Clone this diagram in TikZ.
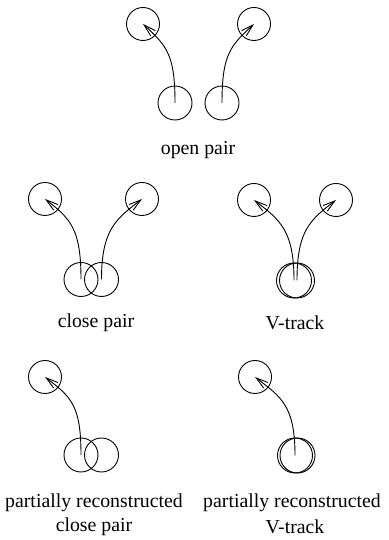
\documentclass[tikz,border=0pt]{standalone}
\usepackage{fontspec}
\setmainfont{Liberation Serif}
\usetikzlibrary{arrows.meta}
\begin{document}
\begin{tikzpicture}[x=1pt,y=1pt,
  line width=0.9pt,
  hit/.style={circle,draw,inner sep=0pt,minimum size=33pt},
  seed/.style={circle,draw,inner sep=0pt,minimum size=34pt},
  trk/.style={-{Straight Barb[length=12pt,width=7pt,line width=0.9pt]}},
  lab/.style={font=\fontsize{19.8}{24}\selectfont,inner sep=0pt}]
\useasboundingbox[fill=white] (0,0) rectangle (388,540);

% open pair
\node[hit] (a1) at (143,516) {};
\node[hit] (a2) at (254,516) {};
\node[seed] (b1) at (175,437) {};
\node[seed] (b2) at (222,437) {};
\draw[trk] (b1.center) .. controls +(0,48) and +(24,-22) .. (a1.center);
\draw[trk] (b2.center) .. controls +(0,48) and +(-24,-22) .. (a2.center);
\node[lab] (t1) at (198,390) {open pair};

% close pair
\node[hit] (c1) at (45,341) {};
\node[hit] (c2) at (142,341) {};
\node[seed] (d1) at (81,260.5) {};
\node[seed] (d2) at (101.5,260.5) {};
\draw[trk] (d1.center) .. controls +(0,50) and +(26,-20) .. (c1.center);
\draw[trk] (d2.center) .. controls +(0,50) and +(-26,-20) .. (c2.center);
\node[lab] (t2) at (96,217) {close pair};

% V-track
\node[hit] (e1) at (254,340) {};
\node[hit] (e2) at (336,340) {};
\node[seed,minimum size=35pt] (f1) at (294,259.5) {};
\node[seed,minimum size=35pt] (f2) at (297,259.5) {};
\draw[trk] (f1.center) .. controls +(0,50) and +(26,-20) .. (e1.center);
\draw[trk] (f2.center) .. controls +(0,50) and +(-26,-20) .. (e2.center);
\node[lab] (t3) at (295,217) {V-track};

% partially reconstructed close pair
\node[hit] (g1) at (45,163) {};
\node[seed] (h1) at (81,85) {};
\node[seed] (h2) at (101.5,85) {};
\draw[trk] (h1.center) .. controls +(0,50) and +(26,-20) .. (g1.center);
\node[lab] (t4) at (94,37) {partially reconstructed};
\node[lab] (t5) at (94,13) {close pair};

% partially reconstructed V-track
\node[hit] (g2) at (255,163) {};
\node[seed,minimum size=35pt] (k1) at (295,84.5) {};
\node[seed,minimum size=35pt] (k2) at (297.5,84.5) {};
\draw[trk] (k1.center) .. controls +(0,50) and +(26,-20) .. (g2.center);
\node[lab] (t6) at (292,37) {partially reconstructed};
\node[lab] (t7) at (295,13) {V-track};
\end{tikzpicture}
\end{document}
